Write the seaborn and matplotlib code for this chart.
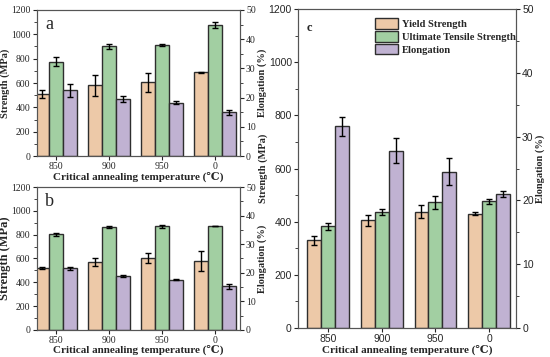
import matplotlib
matplotlib.use("Agg")
import matplotlib.pyplot as plt
from matplotlib.ticker import MultipleLocator
import pandas as pd
import seaborn as sns

temps = ["850", "900", "950", "0"]
series = ["Yield Strength", "Ultimate Tensile Strength", "Elongation"]
colors = ["#F9C99C", "#9AD79B", "#BFADD7"]

# panel a
ys_a = [510, 580, 605, 690]
ys_a_err = [30, 85, 75, 4]
uts_a = [775, 900, 912, 1075]
uts_a_err = [35, 20, 12, 25]
el_a = [22.5, 19.4, 18.3, 14.9]
el_a_err = [2.3, 1.0, 0.4, 0.8]

# panel b
ys_b = [520, 568, 603, 580]
ys_b_err = [10, 35, 40, 85]
uts_b = [802, 866, 870, 873]
uts_b_err = [10, 8, 12, 3]
el_b = [21.5, 18.75, 17.5, 15.2]
el_b_err = [0.4, 0.3, 0.2, 0.9]

# panel c
ys_c = [330, 405, 438, 430]
ys_c_err = [18, 22, 25, 5]
uts_c = [382, 437, 473, 476]
uts_c_err = [12, 10, 25, 8]
el_c = [31.6, 27.8, 24.5, 21.0]
el_c_err = [1.5, 2.0, 2.1, 0.5]

SERIF = ["Liberation Serif", "DejaVu Serif"]
SANS = ["Liberation Sans", "DejaVu Sans"]
EDGE = "#2e2e2e"


def add_errors(ax, errs):
    bars = [p for p in ax.patches if p.get_height() == p.get_height() and p.get_height() > 0]
    xs = [p.get_x() + p.get_width() / 2 for p in bars]
    hs = [p.get_height() for p in bars]
    ax.errorbar(xs, hs, yerr=errs, fmt="none", ecolor="black", elinewidth=1,
                capsize=2, capthick=1)


def draw_panel(ax, ys, ys_err, uts, uts_err, el, el_err, label, tick_font,
               tick_size, ylab_size, xlim, label_kw, ylab_x=None):
    df_s = pd.DataFrame({
        "temp": temps * 2,
        "kind": [series[0]] * 4 + [series[1]] * 4,
        "value": ys + uts,
    })
    sns.barplot(data=df_s, x="temp", y="value", hue="kind", order=temps,
                hue_order=series, palette=colors, width=0.78, dodge=True,
                edgecolor=EDGE, linewidth=1, errorbar=None, legend=False, ax=ax)
    add_errors(ax, ys_err + uts_err)

    ax2 = ax.twinx()
    df_e = pd.DataFrame({"temp": temps, "kind": [series[2]] * 4, "value": el})
    sns.barplot(data=df_e, x="temp", y="value", hue="kind", order=temps,
                hue_order=series, palette=colors, width=0.78, dodge=True,
                edgecolor=EDGE, linewidth=1, errorbar=None, legend=False, ax=ax2)
    add_errors(ax2, el_err)

    ax.set_ylim(0, 1200)
    ax2.set_ylim(0, 50)
    ax.set_xlim(*xlim)
    ax.yaxis.set_major_locator(MultipleLocator(200))
    ax.yaxis.set_minor_locator(MultipleLocator(100))
    ax2.yaxis.set_major_locator(MultipleLocator(10))
    ax2.yaxis.set_minor_locator(MultipleLocator(5))

    ax.set_xlabel("Critical annealing temperature (\u2103)", family=SERIF,
                  fontweight="bold", fontsize=8, labelpad=0)
    ax.set_ylabel("Strength (MPa)", family=SERIF, fontweight="bold",
                  fontsize=ylab_size, labelpad=0.5)
    if ylab_x is not None:
        ax.yaxis.set_label_coords(ylab_x, 0.5)
    ax2.set_ylabel("Elongation (%)", family=SERIF, fontweight="bold",
                   fontsize=7.5, labelpad=1)

    for a in (ax, ax2):
        a.tick_params(axis="both", which="major", length=3, width=0.8,
                      labelsize=tick_size, pad=1.5)
        a.tick_params(axis="y", which="minor", length=2, width=0.6)
        for t in a.get_xticklabels() + a.get_yticklabels():
            t.set_family(tick_font)
        for s in a.spines.values():
            s.set_color("#555555")
            s.set_linewidth(0.8)
    ax.text(0.04, 0.96, label, transform=ax.transAxes, va="top", ha="left",
            **label_kw)
    return ax2


sns.set_style("ticks")
plt.rcParams["font.family"] = SERIF

fig = plt.figure(figsize=(5.5, 3.57), dpi=100)
ax_a = fig.add_axes([0.067, 0.563, 0.369, 0.409])
ax_b = fig.add_axes([0.067, 0.076, 0.369, 0.400])
ax_c = fig.add_axes([0.542, 0.081, 0.396, 0.894])

draw_panel(ax_a, ys_a, ys_a_err, uts_a, uts_a_err, el_a, el_a_err, "a", SERIF,
           7, 7.5, (-0.36, 3.47), dict(fontsize=13, family=SERIF))
draw_panel(ax_b, ys_b, ys_b_err, uts_b, uts_b_err, el_b, el_b_err, "b", SERIF,
           7, 9, (-0.36, 3.47), dict(fontsize=13, family=SERIF), ylab_x=-0.125)
ax_c2 = draw_panel(ax_c, ys_c, ys_c_err, uts_c, uts_c_err, el_c, el_c_err, "c",
                   SANS, 7.5, 7.5, (-0.56, 3.5),
                   dict(fontsize=9, family=SERIF, fontweight="bold"))

handles = [ax_c.patches[0], ax_c.patches[4],
           [p for p in ax_c2.patches if p.get_height() > 0][0]]
leg = ax_c.legend(handles, series, loc="upper left", bbox_to_anchor=(0.31, 1.0),
                  frameon=False, handlelength=2.2, handleheight=1.2,
                  handletextpad=0.3, labelspacing=0.15,
                  prop=dict(family=SERIF, weight="bold", size=7.6))

fig.savefig("out.png", dpi=100)
